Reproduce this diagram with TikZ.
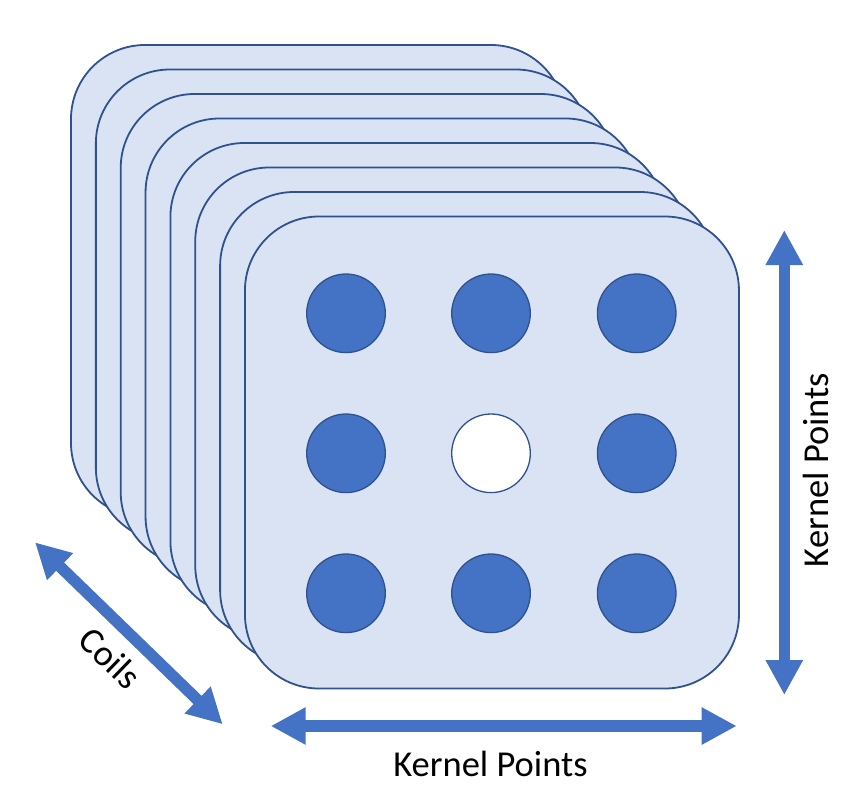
\documentclass[tikz,border=0pt]{standalone}
\usepackage{fontspec}
\setmainfont{Carlito}
\usetikzlibrary{arrows.meta}
\definecolor{sheetfill}{HTML}{DAE3F3}
\definecolor{edgeblue}{HTML}{2F528F}
\definecolor{dotblue}{HTML}{4472C4}
\tikzset{
  sheet/.style={draw=edgeblue, fill=sheetfill, line width=1.8pt, rounded corners=74pt,
    minimum width=494pt, minimum height=472pt, inner sep=0pt, shape=rectangle},
  dot/.style={circle, draw=edgeblue, fill=dotblue, line width=1.3pt, minimum size=78.6pt, inner sep=0pt},
  hole/.style={dot, fill=white},
  bigarrow/.style={draw=dotblue, line width=11.5pt,
    {Triangle[width=35pt,length=35pt]}-{Triangle[width=35pt,length=35pt]}},
  lbl/.style={font=\fontsize{36.5}{40}\selectfont, inner sep=0pt, text=black}
}
\begin{document}
\begin{tikzpicture}[x=1pt,y=-1pt]
\useasboundingbox (0,0) rectangle (856,790);
% stacked sheets, back to front
\foreach \i in {0,...,7}{
  \node[sheet] (s\i) at ({71+24.85*\i+247},{45+24.5*\i+236}) {};
}
% kernel points
\node[dot]  (k11) at (346,313.3) {};
\node[dot]  (k12) at (491,313.3) {};
\node[dot]  (k13) at (636.7,313.3) {};
\node[dot]  (k21) at (346,453.3) {};
\node[hole] (k22) at (491,453.3) {};
\node[dot]  (k23) at (636.7,453.3) {};
\node[dot]  (k31) at (346,593.3) {};
\node[dot]  (k32) at (491,593.3) {};
\node[dot]  (k33) at (636.7,593.3) {};
% arrows
\coordinate (vt) at (784.3,230);
\coordinate (vb) at (784.3,695);
\coordinate (hl) at (270.7,726);
\coordinate (hr) at (736.7,726);
\coordinate (ct) at (35,542.3);
\coordinate (cb) at (222.7,724.3);
\draw[bigarrow] (vt) -- (vb);
\draw[bigarrow] (hl) -- (hr);
\draw[bigarrow] (ct) -- (cb);
% labels
\node[lbl, anchor=base] (hlabel) at (490.5,776) {Kernel Points};
\node[lbl, anchor=base, rotate=90] (vlabel) at (828,470) {Kernel Points};
\node[lbl, rotate=-44] (clabel) at (110,658) {Coils};
\end{tikzpicture}
\end{document}
